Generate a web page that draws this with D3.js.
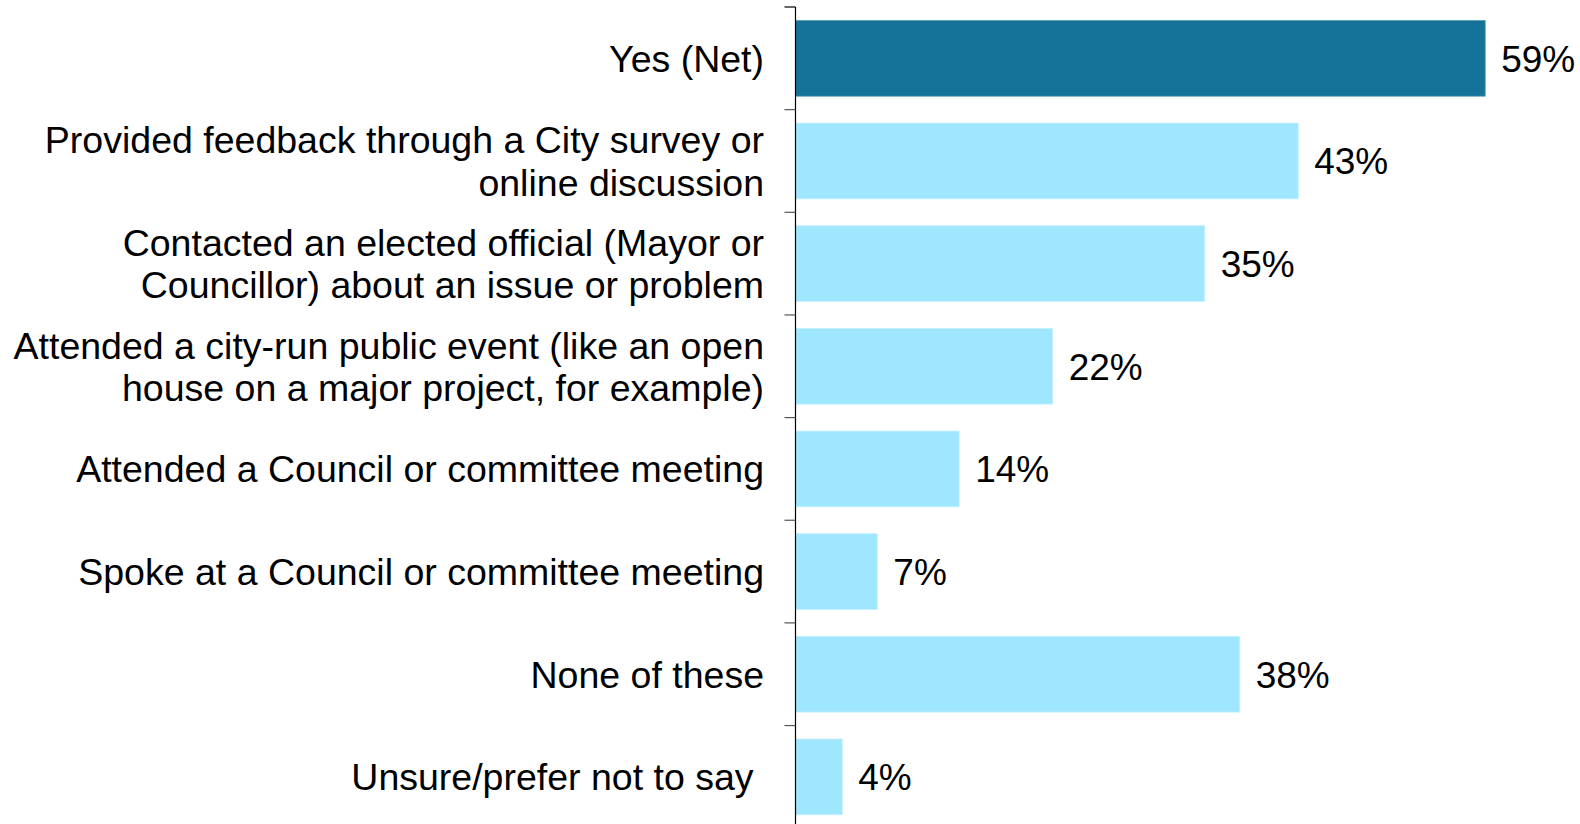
<!DOCTYPE html>
<html>
<head>
<meta charset="utf-8">
<script src="https://cdn.jsdelivr.net/npm/d3@7"></script>
<style>
  html, body { margin: 0; padding: 0; background: #fff; overflow: hidden; }
  svg { display: block; font-family: "Liberation Sans", Arial, sans-serif; }
</style>
</head>
<body>
<svg id="chart" width="1580" height="824"></svg>
<script>
// Survey responses: civic engagement activities (percent of respondents)
const categories = [
  "Yes (Net)",
  "Provided feedback through a City survey or online discussion",
  "Contacted an elected official (Mayor or Councillor) about an issue or problem",
  "Attended a city-run public event (like an open house on a major project, for example)",
  "Attended a Council or committee meeting",
  "Spoke at a Council or committee meeting",
  "None of these",
  "Unsure/prefer not to say "
];
const labelLines = [
  ["Yes (Net)"],
  ["Provided feedback through a City survey or", "online discussion"],
  ["Contacted an elected official (Mayor or", "Councillor) about an issue or problem"],
  ["Attended a city-run public event (like an open", "house on a major project, for example)"],
  ["Attended a Council or committee meeting"],
  ["Spoke at a Council or committee meeting"],
  ["None of these"],
  ["Unsure/prefer not to say "]
];
const values = [59, 43, 35, 22, 14, 7, 38, 4];
const highlighted = ["Yes (Net)"];

const svg = d3.select("#chart");
const axisX = 795.5;
const step = 102.65;
const topY = 7;

const y = d3.scaleBand()
  .domain(categories)
  .range([topY, topY + step * categories.length])
  .paddingInner(0.262)
  .paddingOuter(0.131);

const x = d3.scaleLinear()
  .domain([0, 100])
  .range([axisX, axisX + 1169]);

// Bars
svg.append("g").selectAll("rect")
  .data(categories)
  .join("rect")
  .attr("x", axisX)
  .attr("y", d => y(d))
  .attr("width", (d, i) => x(values[i]) - axisX)
  .attr("height", y.bandwidth())
  .attr("fill", d => highlighted.includes(d) ? "#15739A" : "#9FE7FE")
  .attr("stroke", d => highlighted.includes(d) ? "#5A9DBD" : "#C4F0FF")
  .attr("stroke-width", 0.8);

// Value labels
svg.append("g").selectAll("text")
  .data(categories)
  .join("text")
  .attr("x", (d, i) => x(values[i]) + 16)
  .attr("y", d => y(d) + y.bandwidth() / 2)
  .attr("dy", "0.36em")
  .attr("font-size", 37)
  .attr("fill", "#000")
  .text((d, i) => values[i] + "%");

// Category labels
const lineH = 42.3;
const lab = svg.append("g").selectAll("text")
  .data(categories)
  .join("text")
  .attr("text-anchor", "end")
  .attr("font-size", 37.5)
  .attr("fill", "#000")
  .style("white-space", "pre");
lab.each(function(d, i) {
  const lines = labelLines[i];
  const t = d3.select(this);
  const cy = y(d) + y.bandwidth() / 2;
  lines.forEach((ln, j) => {
    t.append("tspan")
      .attr("x", 764)
      .attr("y", cy + (j - (lines.length - 1) / 2) * lineH)
      .attr("dy", "0.36em")
      .text(ln);
  });
});

// Category axis: spine and tick marks at band boundaries
const boundaries = categories.map(c => y(c) - y.step() * y.paddingInner() / 2);
const g = svg.append("g");
g.append("line")
  .attr("x1", axisX).attr("x2", axisX)
  .attr("y1", topY).attr("y2", topY + step * categories.length)
  .attr("stroke", "#000").attr("stroke-width", 1.2);
g.selectAll("line.tick")
  .data(boundaries)
  .join("line")
  .attr("class", "tick")
  .attr("x1", axisX - 11).attr("x2", axisX)
  .attr("y1", (d, i) => i === 0 ? topY : d)
  .attr("y2", (d, i) => i === 0 ? topY : d)
  .attr("stroke", (d, i) => i === 0 ? "#000" : "#555")
  .attr("stroke-width", 1.2);
</script>
</body>
</html>
